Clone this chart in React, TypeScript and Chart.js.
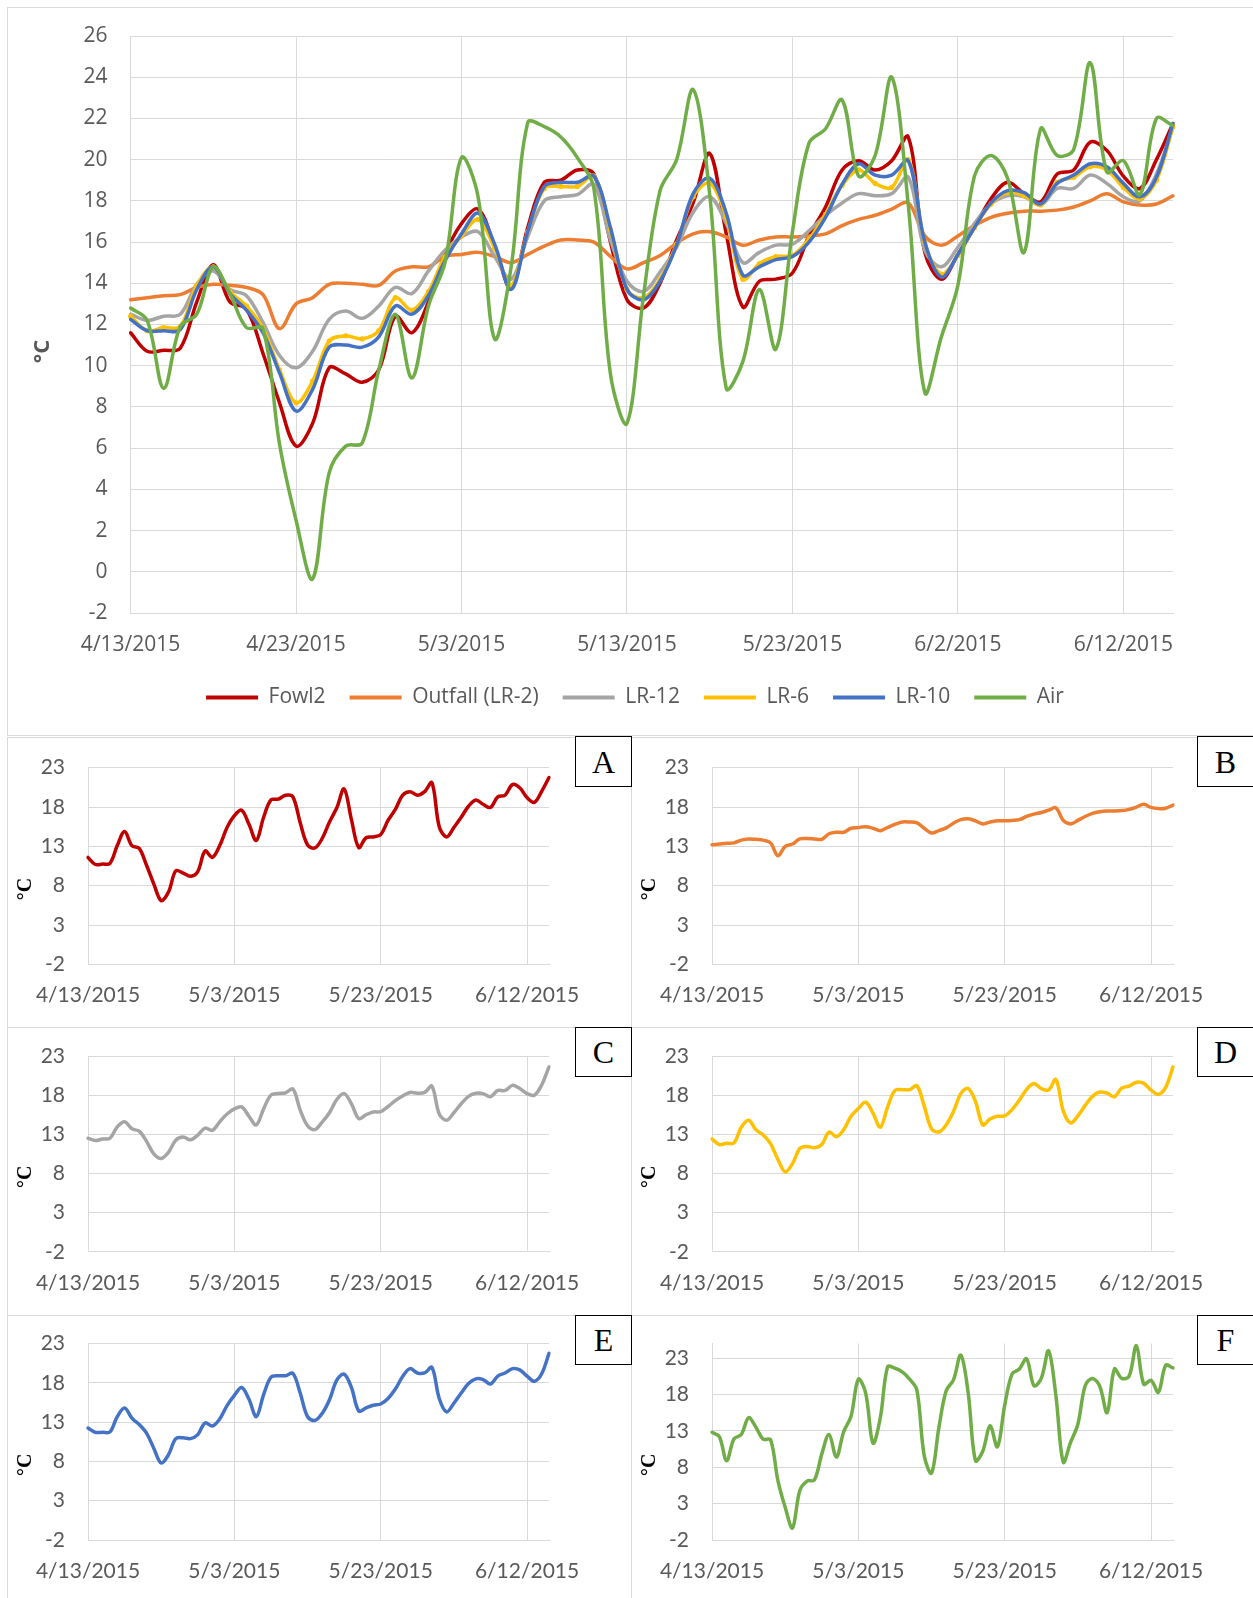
import React, { useEffect, useRef } from 'react';
import { Chart, registerables } from 'chart.js';

Chart.register(...registerables);

// ---------- data ----------
const dates = [
  '4/13/2015', '4/14/2015', '4/15/2015', '4/16/2015', '4/17/2015', '4/18/2015', '4/19/2015', '4/20/2015', '4/21/2015',
  '4/22/2015', '4/23/2015', '4/24/2015', '4/25/2015', '4/26/2015', '4/27/2015', '4/28/2015', '4/29/2015', '4/30/2015',
  '5/1/2015', '5/2/2015', '5/3/2015', '5/4/2015', '5/5/2015', '5/6/2015', '5/7/2015', '5/8/2015', '5/9/2015', '5/10/2015',
  '5/11/2015', '5/12/2015', '5/13/2015', '5/14/2015', '5/15/2015', '5/16/2015', '5/17/2015', '5/18/2015', '5/19/2015',
  '5/20/2015', '5/21/2015', '5/22/2015', '5/23/2015', '5/24/2015', '5/25/2015', '5/26/2015', '5/27/2015', '5/28/2015',
  '5/29/2015', '5/30/2015', '5/31/2015', '6/1/2015', '6/2/2015', '6/3/2015', '6/4/2015', '6/5/2015', '6/6/2015',
  '6/7/2015', '6/8/2015', '6/9/2015', '6/10/2015', '6/11/2015', '6/12/2015', '6/13/2015', '6/14/2015', '6/15/2015',
];

const fowl2 = [
  11.6, 10.7, 10.75, 10.85, 13.1, 14.9, 13.1, 12.75, 10.6, 8.2,
  6.1, 7.2, 9.9, 9.6, 9.2, 9.8, 12.4, 11.6, 13.1, 15.4,
  16.9, 17.6, 15.8, 13.75, 16.7, 18.9, 19.0, 19.5, 19.3, 16.0,
  13.2, 12.8, 14.0, 16.1, 17.9, 20.3, 16.4, 12.85, 14.1, 14.2,
  14.5, 16.3, 17.7, 19.5, 19.95, 19.5, 19.95, 21.1, 15.5, 14.2,
  15.4, 16.7, 18.1, 18.9, 18.35, 17.95, 19.3, 19.5, 20.85, 20.45,
  19.2, 18.6, 20.0, 21.75,
];

const outfall = [
  13.2, 13.3, 13.4, 13.45, 13.8, 13.95, 13.9, 13.8, 13.45, 11.8,
  13.0, 13.3, 13.95, 14.0, 13.95, 13.9, 14.6, 14.8, 14.8, 15.3,
  15.4, 15.5, 15.3, 15.0, 15.4, 15.8, 16.1, 16.1, 16.0, 15.3,
  14.7, 15.0, 15.35, 15.95, 16.4, 16.5, 16.25, 15.85, 16.1, 16.25,
  16.25, 16.3, 16.4, 16.8, 17.1, 17.3, 17.6, 17.9, 16.3, 15.85,
  16.3, 16.8, 17.2, 17.4, 17.5, 17.5, 17.55, 17.7, 18.0, 18.35,
  17.95, 17.8, 17.85, 18.25,
];

const lr12 = [
  12.5, 12.2, 12.4, 12.5, 13.95, 14.6, 13.7, 13.4, 12.1, 10.5,
  9.9, 10.7, 12.25, 12.65, 12.3, 12.9, 13.8, 13.5, 14.6, 15.6,
  16.25, 16.5, 15.3, 14.2, 16.25, 18.0, 18.2, 18.3, 18.8, 16.1,
  14.1, 13.6, 14.55, 15.75, 17.45, 18.2, 16.9, 15.0, 15.5, 15.85,
  15.9, 16.55, 17.3, 17.9, 18.35, 18.25, 18.35, 19.15, 15.6, 14.8,
  15.75, 16.9, 17.85, 18.25, 18.2, 17.8, 18.6, 18.6, 19.25, 18.85,
  18.2, 18.0, 19.3, 21.6,
];

const lr6 = [
  12.4, 11.7, 11.85, 11.9, 13.9, 14.8, 13.6, 12.9, 11.8, 9.8,
  8.2, 9.25, 11.2, 11.45, 11.3, 11.7, 13.3, 12.7, 13.6, 15.3,
  16.3, 17.1, 15.7, 13.9, 16.5, 18.6, 18.7, 18.7, 19.2, 16.6,
  13.7, 13.3, 14.2, 15.9, 18.2, 18.85, 17.2, 14.2, 14.95, 15.3,
  15.35, 16.15, 17.35, 18.75, 19.5, 18.85, 18.65, 20.0, 16.0, 14.45,
  15.35, 16.7, 17.85, 18.4, 18.25, 17.8, 18.9, 19.15, 19.65, 19.5,
  18.65, 18.1, 19.0, 21.6,
];

const lr10 = [
  12.25, 11.7, 11.7, 11.75, 13.7, 14.8, 13.5, 12.7, 11.6, 9.65,
  7.8, 8.85, 10.9, 11.0, 10.9, 11.4, 12.9, 12.5, 13.4, 15.1,
  16.4, 17.4, 15.9, 13.7, 16.5, 18.7, 18.9, 18.9, 19.2, 16.7,
  13.7, 13.2, 14.1, 15.85, 18.35, 19.1, 17.4, 14.4, 14.8, 15.15,
  15.3, 16.0, 17.2, 18.8, 19.8, 19.25, 19.25, 19.95, 16.0, 14.3,
  15.4, 16.7, 17.9, 18.5, 18.4, 17.85, 18.85, 19.25, 19.8, 19.65,
  18.85, 18.2, 19.15, 21.75,
];

const air = [
  12.8, 12.2, 8.9, 11.9, 12.5, 14.8, 13.5, 11.85, 11.8, 6.2,
  2.5, -0.35, 4.8, 6.1, 6.25, 9.8, 12.5, 9.4, 12.9, 15.0,
  20.1, 18.2, 11.3, 14.8, 21.8, 21.6, 21.1, 20.1, 18.6, 9.6,
  7.2, 13.4, 18.5, 20.0, 23.4, 18.3, 8.9, 10.2, 13.7, 10.8,
  16.5, 20.8, 21.5, 22.9, 19.2, 20.2, 24.0, 17.8, 8.7, 11.4,
  13.9, 19.2, 20.2, 19.1, 15.5, 21.5, 20.2, 20.5, 24.7, 19.4,
  19.95, 18.3, 22.0, 21.65,
];

const seriesNames = ['Fowl2', 'Outfall (LR-2)', 'LR-12', 'LR-6', 'LR-10', 'Air'];
const seriesColors = ['#C00000', '#ED7D31', '#A5A5A5', '#FFC000', '#4472C4', '#70AD47'];
const seriesData = [fowl2, outfall, lr12, lr6, lr10, air];

const mainYTicks = [-2, 0, 2, 4, 6, 8, 10, 12, 14, 16, 18, 20, 22, 24, 26];
const panelYTicks = [-2, 3, 8, 13, 18, 23];
const panelLetters = ['A', 'B', 'C', 'D', 'E', 'F'];
const panelYMax = [23, 23, 23, 23, 23, 25];
const mainXStep = 10;
const panelXStep = 20;
const yTitleText = '°C';

// ---------- style ----------
const GRID = '#d9d9d9';
const TEXT = '#595959';
const SANS = "'Open Sans', sans-serif";
const PANEL_SANS = 'Lato, sans-serif';
const SERIF = "'Liberation Serif', 'Times New Roman', serif";

function yTitlePlugin(text: string, x: number, y: number, font: string, color: string) {
  return {
    id: 'yTitle',
    afterDraw(chart: any) {
      const ctx = chart.ctx;
      ctx.save();
      ctx.translate(x, y);
      ctx.rotate(-Math.PI / 2);
      ctx.font = font;
      ctx.fillStyle = color;
      ctx.textAlign = 'center';
      ctx.textBaseline = 'middle';
      ctx.fillText(text, 0, 0);
      ctx.restore();
    },
  };
}

function legendShiftPlugin(dx: number) {
  return {
    id: 'legendShift',
    afterLayout(chart: any) {
      const l = chart.legend;
      if (l) {
        l.left += dx;
        l.right += dx;
      }
    },
  };
}

function xScale(step: number, family: string, padding: number, height: number) {
  return {
    type: 'category',
    grid: { color: GRID, lineWidth: 1, drawTicks: false },
    border: { color: GRID, width: 1 },
    ticks: {
      autoSkip: false,
      maxRotation: 0,
      minRotation: 0,
      padding,
      color: TEXT,
      font: { family, size: 21 },
    },
    afterBuildTicks: (s: any) => {
      s.ticks = s.ticks.filter((t: any) => t.value % step === 0);
    },
    afterFit: (s: any) => {
      s.height = height;
    },
  };
}

function yScale(ticks: number[], max: number, family: string, width: number) {
  return {
    type: 'linear',
    min: -2,
    max,
    // invisible tick marks provide the gap between labels and the plot
    grid: { color: GRID, lineWidth: 1, drawTicks: true, tickLength: 23, tickColor: 'rgba(0,0,0,0)' },
    border: { color: GRID, width: 1 },
    ticks: { padding: 0, color: TEXT, font: { family, size: 21 } },
    afterBuildTicks: (s: any) => {
      s.ticks = ticks.map((v) => ({ value: v }));
    },
    afterFit: (s: any) => {
      s.width = width;
    },
  };
}

function ChartCanvas({ left, top, width, height, make }: any) {
  const ref = useRef<HTMLCanvasElement>(null);
  useEffect(() => {
    const chart = new Chart(ref.current as HTMLCanvasElement, make());
    return () => chart.destroy();
  }, []);
  return (
    <canvas
      ref={ref}
      width={width}
      height={height}
      style={{ position: 'absolute', left, top, width, height, display: 'block' }}
    />
  );
}

// main chart geometry (relative to its canvas)
const MAIN = { left: 8, top: 8, width: 1245, height: 727 };
const MAIN_PLOT_LEFT = 122.6;
const MAIN_PAD_RIGHT = 80;
const MAIN_LEGEND_CENTER = 627;

function makeMain() {
  const legendCenterNow = (MAIN.width - MAIN_PAD_RIGHT) / 2;
  return {
    type: 'line',
    data: {
      labels: dates,
      datasets: seriesData.map((d, i) => ({
        label: seriesNames[i],
        data: d,
        borderColor: seriesColors[i],
        backgroundColor: seriesColors[i],
        borderWidth: 3.5,
        pointRadius: i === 3 ? 2.6 : 0,
        pointBorderWidth: 0,
        pointBackgroundColor: seriesColors[i],
        pointHoverRadius: 0,
        tension: 0.35,
        fill: false,
        borderCapStyle: 'round',
        borderJoinStyle: 'round',
        order: seriesData.length - i,
      })),
    },
    options: {
      animation: false,
      responsive: false,
      maintainAspectRatio: false,
      devicePixelRatio: 1,
      events: [],
      layout: { padding: { left: 0, right: MAIN_PAD_RIGHT, top: 28, bottom: 17 } },
      scales: {
        x: xScale(mainXStep, SANS, 19, 50),
        y: yScale(mainYTicks, 26, SANS, MAIN_PLOT_LEFT),
      },
      plugins: {
        tooltip: { enabled: false },
        legend: {
          display: true,
          position: 'bottom',
          labels: {
            boxWidth: 52,
            boxHeight: 4,
            padding: 24,
            color: TEXT,
            font: { family: SANS, size: 21 },
            sort: (a: any, b: any) => a.datasetIndex - b.datasetIndex,
            generateLabels: (chart: any) =>
              (Chart.defaults.plugins.legend.labels.generateLabels as any)(chart).map((l: any) => ({
                ...l,
                fillStyle: l.strokeStyle,
                lineWidth: 0,
              })),
          },
        },
      },
    },
    plugins: [
      yTitlePlugin(yTitleText, 34.5, 343.5, `bold 22px ${SANS}`, TEXT),
      legendShiftPlugin(MAIN_LEGEND_CENTER - legendCenterNow),
    ],
  };
}

// panel geometry
const colFrameLeft = [7, 631];
const colFrameWidth = [625, 623];
const rowFrameTop = [737, 1027, 1315];
const rowFrameHeight = [291, 289, 284];
const colCanvasLeft = [8, 632];
const colCanvasWidth = [622, 620];
const rowCanvasTop = [738, 1028, 1316];
const rowCanvasHeight = [288, 286, 282];
const rowPlotTop = [29.7, 28, 27.5];
const rowPlotBottom = [226.4, 223.8, 224];
const PLOT_LEFT = 80;
const PLOT_RIGHT = 541;
const PANEL_X_H = 40;
const boxLeft = [575, 1197];
const boxTop = [736, 1027, 1315];
const boxHeight = [51, 50, 50];

function makePanel(i: number) {
  const col = i % 2;
  const row = Math.floor(i / 2);
  const cw = colCanvasWidth[col];
  const ch = rowCanvasHeight[row];
  const pt = rowPlotTop[row];
  const pb = rowPlotBottom[row];
  return {
    type: 'line',
    data: {
      labels: dates,
      datasets: [
        {
          label: seriesNames[i],
          data: seriesData[i],
          borderColor: seriesColors[i],
          backgroundColor: seriesColors[i],
          borderWidth: 3.5,
          pointRadius: 0,
          pointHoverRadius: 0,
          tension: 0.35,
          fill: false,
          borderCapStyle: 'round',
          borderJoinStyle: 'round',
        },
      ],
    },
    options: {
      animation: false,
      responsive: false,
      maintainAspectRatio: false,
      devicePixelRatio: 1,
      events: [],
      layout: {
        padding: { left: 0, right: cw - PLOT_RIGHT, top: pt, bottom: ch - pb - PANEL_X_H },
      },
      scales: {
        x: xScale(panelXStep, PANEL_SANS, 18.4, PANEL_X_H),
        y: yScale(panelYTicks, panelYMax[i], PANEL_SANS, PLOT_LEFT),
      },
      plugins: { legend: { display: false }, tooltip: { enabled: false } },
    },
    plugins: [yTitlePlugin(yTitleText, 17.5, (pt + pb) / 2 + 23, `bold 20px ${SERIF}`, '#000')],
  };
}

export default function App() {
  return (
    <div
      style={{
        position: 'absolute',
        left: 0,
        top: 0,
        width: 1253,
        height: 1598,
        overflow: 'hidden',
        background: '#fff',
      }}
    >
      <div
        style={{
          position: 'absolute',
          left: 7,
          top: 7,
          width: 1247,
          height: 729,
          border: `1px solid ${GRID}`,
          boxSizing: 'border-box',
        }}
      />
      {panelLetters.map((_, i) => {
        const col = i % 2;
        const row = Math.floor(i / 2);
        return (
          <div
            key={'f' + i}
            style={{
              position: 'absolute',
              left: colFrameLeft[col],
              top: rowFrameTop[row],
              width: colFrameWidth[col],
              height: rowFrameHeight[row],
              border: `1px solid ${GRID}`,
              boxSizing: 'border-box',
            }}
          />
        );
      })}
      <ChartCanvas left={MAIN.left} top={MAIN.top} width={MAIN.width} height={MAIN.height} make={makeMain} />
      {panelLetters.map((_, i) => {
        const col = i % 2;
        const row = Math.floor(i / 2);
        return (
          <ChartCanvas
            key={'c' + i}
            left={colCanvasLeft[col]}
            top={rowCanvasTop[row]}
            width={colCanvasWidth[col]}
            height={rowCanvasHeight[row]}
            make={() => makePanel(i)}
          />
        );
      })}
      {panelLetters.map((letter, i) => {
        const col = i % 2;
        const row = Math.floor(i / 2);
        return (
          <div
            key={'b' + i}
            style={{
              position: 'absolute',
              left: boxLeft[col],
              top: boxTop[row],
              width: 57,
              height: boxHeight[row],
              border: '1px solid #000',
              boxSizing: 'border-box',
              background: '#fff',
              display: 'flex',
              alignItems: 'center',
              justifyContent: 'center',
              fontFamily: SERIF,
              fontSize: 32,
              lineHeight: 1,
              color: '#000',
            }}
          >
            {letter}
          </div>
        );
      })}
    </div>
  );
}
